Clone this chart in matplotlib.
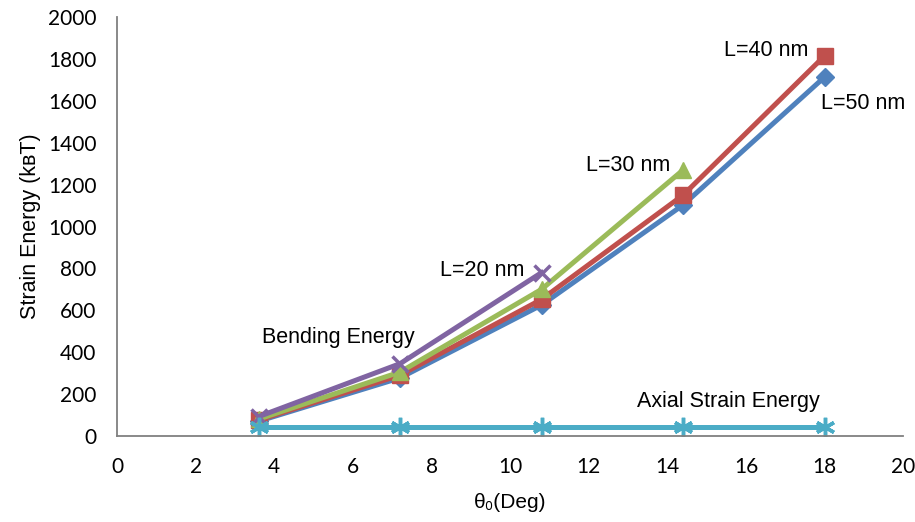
import matplotlib
matplotlib.use("Agg")
import matplotlib.pyplot as plt

plt.rcParams['font.family'] = ['Liberation Sans', 'DejaVu Sans']

theta = [3.6, 7.2, 10.8, 14.4, 18.0]
e_50 = [70, 277, 625, 1103, 1714]
e_40 = [75, 290, 652, 1150, 1815]
e_30 = [80, 305, 700, 1270]
e_20 = [92, 345, 780]
e_axial = [40, 40, 40, 40, 40]

fig = plt.figure(figsize=(9.15, 5.22), dpi=100)
ax = fig.add_axes([0.128, 0.165, 0.859, 0.802])

ax.plot(theta, e_50, '-', color='#4F81BD', lw=3.6, marker='D', ms=9)
ax.plot(theta, e_40, '-', color='#C0504D', lw=3.6, marker='s', ms=11)
ax.plot(theta[:4], e_30, '-', color='#9BBB59', lw=3.6, marker='^', ms=12)
ax.plot(theta[:3], e_20, '-', color='#8064A2', lw=3.6, marker='x', ms=12, mew=2.5)
ax.plot(theta, e_axial, '-', color='#4BACC6', lw=3.6, marker=(6, 2, 0), ms=14, mew=2.5)

fs = 15.5
ax.text(17.58, 1842, 'L=40 nm', ha='right', va='center', fontsize=fs)
ax.text(17.9, 1590, 'L=50 nm', ha='left', va='center', fontsize=fs)
ax.text(11.93, 1293, 'L=30 nm', ha='left', va='center', fontsize=fs)
ax.text(8.22, 792, 'L=20 nm', ha='left', va='center', fontsize=fs)
ax.text(3.69, 468, 'Bending Energy', ha='left', va='center', fontsize=fs)
ax.text(13.23, 162, 'Axial Strain Energy', ha='left', va='center', fontsize=fs)

ax.set_xlim(0, 20)
ax.set_ylim(0, 2000)
ax.set_xticks(range(0, 21, 2))
ax.set_yticks(range(0, 2001, 200))
for lab in ax.get_xticklabels() + ax.get_yticklabels():
    lab.set_family(['Lato', 'DejaVu Sans'])
    lab.set_fontsize(15)
ax.tick_params(axis='x', length=0, pad=15)
ax.tick_params(axis='y', length=0, pad=15)
ax.spines['top'].set_visible(False)
ax.spines['right'].set_visible(False)
ax.spines['left'].set_color('#808080')
ax.spines['bottom'].set_color('#808080')
ax.spines['left'].set_linewidth(1.3)
ax.spines['bottom'].set_linewidth(1.3)

ax.set_xlabel('θ₀(Deg)', fontsize=15, labelpad=12)
ax.set_ylabel('Strain Energy (kʙT)', fontsize=15.5, labelpad=5)

fig.savefig('out.png', dpi=100)
